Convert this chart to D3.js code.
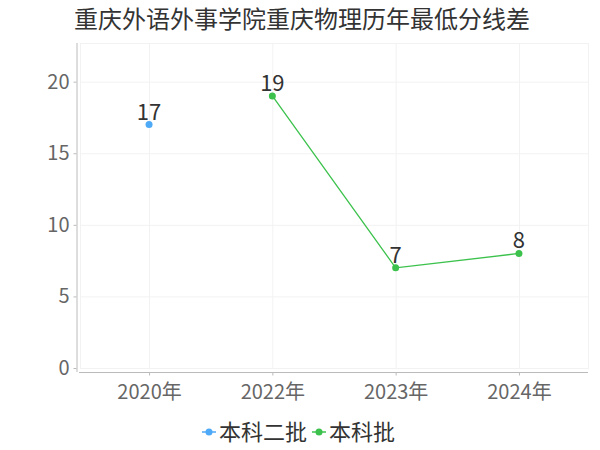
<!DOCTYPE html>
<html>
<head>
<meta charset="utf-8">
<script src="https://cdn.jsdelivr.net/npm/d3@7"></script>
<style>
  html, body { margin: 0; padding: 0; background: #fff; }
  svg text { font-family: "Noto Sans CJK SC", "Noto Sans", sans-serif; }
</style>
</head>
<body>
<div id="chart"></div>
<script>
// Chart data
var title = "重庆外语外事学院重庆物理历年最低分线差";
var years = ["2020年", "2022年", "2023年", "2024年"];
var seriesNames = ["本科二批", "本科批"];
var seriesColors = ["#4ea9f7", "#3cc24c"];
var batch2Values = [17, null, null, null];
var batchValues = [null, 19, 7, 8];
var yTicks = [0, 5, 10, 15, 20];

var width = 600, height = 450;
var plot = {left: 80, right: 588, top: 43, bottom: 368};

var svg = d3.select("#chart").append("svg")
  .attr("width", width)
  .attr("height", height);

var x = d3.scalePoint()
  .domain(years)
  .range([plot.left, plot.right])
  .padding(0.56);

var y = d3.scaleLinear()
  .domain([0, 22.7])
  .range([plot.bottom, plot.top]);

// Faint grid and plot frame
var grid = svg.append("g").attr("stroke", "#f2f2f2").attr("stroke-width", 1);
grid.selectAll(".gy")
  .data(yTicks)
  .enter().append("line")
  .attr("x1", plot.left).attr("x2", plot.right)
  .attr("y1", function(d) { return y(d) + 0.5; })
  .attr("y2", function(d) { return y(d) + 0.5; });
grid.selectAll(".gx")
  .data(years)
  .enter().append("line")
  .attr("x1", function(d) { return x(d) + 0.5; })
  .attr("x2", function(d) { return x(d) + 0.5; })
  .attr("y1", plot.top).attr("y2", plot.bottom);
grid.append("rect")
  .attr("x", plot.left + 0.5).attr("y", plot.top + 0.5)
  .attr("width", plot.right - plot.left).attr("height", plot.bottom - plot.top)
  .attr("fill", "none");

// Y axis, slightly offset to the left of the plot
var yAxis = svg.append("g")
  .attr("transform", "translate(" + (plot.left - 3.5) + ",0)")
  .call(d3.axisLeft(y).tickValues(yTicks).tickSize(3).tickPadding(4));
yAxis.select(".domain").attr("stroke", "#bbb").attr("d", "M0.5," + plot.top + "V" + (plot.bottom + 4));
yAxis.selectAll(".tick line").attr("stroke", "#bbb");
yAxis.selectAll(".tick text")
  .attr("fill", "#666")
  .style("font-size", "20px");

// X axis, slightly offset below the plot
var xAxis = svg.append("g")
  .attr("transform", "translate(0," + (plot.bottom + 4.5) + ")")
  .call(d3.axisBottom(x).tickSize(3).tickPadding(9));
xAxis.select(".domain").attr("stroke", "#bbb").attr("d", "M" + (plot.left - 1) + ",0H" + plot.right);
xAxis.selectAll(".tick line").attr("stroke", "#bbb");
xAxis.selectAll(".tick text")
  .attr("fill", "#666")
  .style("font-size", "20px");

// Series
var series = [batch2Values, batchValues];
var line = d3.line()
  .defined(function(d) { return d != null; })
  .x(function(d, i) { return x(years[i]); })
  .y(function(d) { return y(d); });

series.forEach(function(values, s) {
  svg.append("path")
    .datum(values)
    .attr("fill", "none")
    .attr("stroke", seriesColors[s])
    .attr("stroke-width", 1.3)
    .attr("d", line);

  var pts = values.map(function(v, i) { return {v: v, year: years[i]}; })
    .filter(function(d) { return d.v != null; });

  svg.selectAll(".dot" + s)
    .data(pts)
    .enter().append("circle")
    .attr("cx", function(d) { return x(d.year); })
    .attr("cy", function(d) { return y(d.v); })
    .attr("r", 3.5)
    .attr("fill", seriesColors[s]);

  svg.selectAll(".lbl" + s)
    .data(pts)
    .enter().append("text")
    .attr("x", function(d) { return x(d.year); })
    .attr("y", function(d) { return y(d.v) - 5; })
    .attr("text-anchor", "middle")
    .attr("fill", "#333")
    .style("font-size", "22px")
    .text(function(d) { return d.v; });
});

// Title
svg.append("text")
  .attr("x", 302)
  .attr("y", 28)
  .attr("text-anchor", "middle")
  .attr("fill", "#333")
  .style("font-size", "24px")
  .text(title);

// Legend
var legend = svg.append("g");
var legendX = [202, 312];
seriesNames.forEach(function(name, s) {
  var g = legend.append("g").attr("transform", "translate(" + legendX[s] + ",432)");
  g.append("line")
    .attr("x1", 0).attr("x2", 14)
    .attr("stroke", seriesColors[s]).attr("stroke-width", 1.5);
  g.append("circle")
    .attr("cx", 7).attr("r", 3.5)
    .attr("fill", seriesColors[s]);
  g.append("text")
    .attr("x", 17)
    .attr("dy", "0.35em")
    .attr("fill", "#333")
    .style("font-size", "22px")
    .text(name);
});
</script>
</body>
</html>
